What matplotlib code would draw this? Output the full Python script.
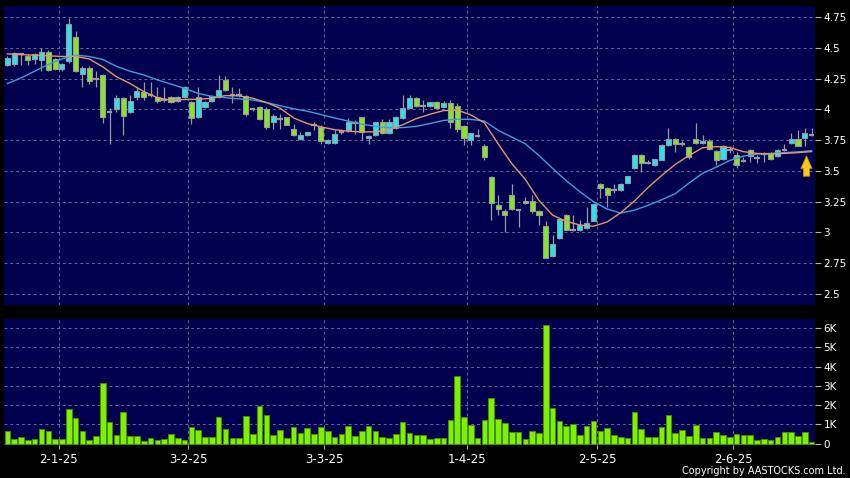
import matplotlib
matplotlib.use("Agg")
import matplotlib.pyplot as plt
import numpy as np

# daily OHLC (HKD), one entry per trading day
opens = [4.36, 4.37, 4.45, 4.43, 4.41, 4.40, 4.47, 4.41, 4.33, 4.39,
         4.585, 4.29, 4.34, 4.25, 4.28, 3.975, 4.00, 4.09, 3.98, 4.10,
         4.14, 4.12, 4.10, 4.08, 4.10, 4.07, 4.10, 4.06, 3.935, 4.02,
         4.07, 4.10, 4.24, 4.12, 4.12, 4.11, 4.00, 4.02, 4.005, 3.90,
         3.92, 3.935, 3.84, 3.76, 3.79, 3.875, 3.855, 3.725, 3.725, 3.82,
         3.83, 3.886, 3.935, 3.765, 3.79, 3.895, 3.805, 3.85, 3.93, 4.015,
         4.095, 4.03, 4.03, 4.057, 4.022, 4.049, 4.03, 3.865, 3.755, 3.785,
         3.70, 3.45, 3.22, 3.17, 3.30, 3.18, 3.253, 3.253, 3.17, 3.05,
         2.81, 2.955, 3.145, 3.02, 3.02, 3.035, 3.095, 3.39, 3.36, 3.345,
         3.342, 3.40, 3.52, 3.63, 3.567, 3.548, 3.588, 3.71, 3.76, 3.72,
         3.697, 3.756, 3.724, 3.745, 3.661, 3.594, 3.67, 3.629, 3.583, 3.67,
         3.607, 3.637, 3.643, 3.621, 3.67, 3.724, 3.756, 3.767, 3.792]
highs = [4.43, 4.47, 4.46, 4.45, 4.46, 4.50, 4.48, 4.42, 4.38, 4.74,
         4.64, 4.35, 4.35, 4.31, 4.29, 4.01, 4.12, 4.10, 4.12, 4.18,
         4.22, 4.22, 4.18, 4.18, 4.11, 4.11, 4.19, 4.07, 4.18, 4.07,
         4.12, 4.28, 4.27, 4.18, 4.17, 4.12, 4.01, 4.03, 4.02, 3.96,
         3.96, 3.94, 3.88, 3.82, 3.82, 3.90, 3.87, 3.76, 3.83, 3.84,
         3.93, 3.91, 3.94, 3.79, 3.90, 3.925, 3.925, 3.95, 4.12, 4.12,
         4.10, 4.075, 4.06, 4.07, 4.07, 4.075, 4.05, 3.87, 3.81, 3.84,
         3.72, 3.46, 3.30, 3.19, 3.39, 3.19, 3.29, 3.30, 3.18, 3.09,
         2.98, 3.11, 3.15, 3.14, 3.10, 3.21, 3.235, 3.40, 3.365, 3.39,
         3.40, 3.46, 3.635, 3.635, 3.59, 3.60, 3.715, 3.846, 3.765, 3.74,
         3.70, 3.89, 3.79, 3.76, 3.67, 3.71, 3.70, 3.655, 3.61, 3.675,
         3.63, 3.65, 3.65, 3.675, 3.72, 3.805, 3.83, 3.85, 3.846]
lows = [4.35, 4.35, 4.36, 4.36, 4.37, 4.31, 4.31, 4.32, 4.31, 4.38,
        4.30, 4.18, 4.21, 4.18, 3.89, 3.72, 3.98, 3.79, 3.97, 4.08,
        4.08, 4.10, 4.05, 4.06, 4.05, 4.06, 4.09, 3.88, 3.93, 4.01,
        4.06, 4.09, 4.15, 4.05, 4.10, 3.95, 3.99, 3.91, 3.84, 3.84,
        3.84, 3.87, 3.78, 3.75, 3.78, 3.83, 3.715, 3.72, 3.72, 3.80,
        3.82, 3.80, 3.75, 3.715, 3.78, 3.80, 3.80, 3.84, 3.92, 4.01,
        4.02, 3.98, 4.02, 4.01, 4.02, 3.845, 3.82, 3.71, 3.71, 3.775,
        3.59, 3.10, 3.14, 3.005, 3.18, 3.04, 3.23, 3.16, 3.06, 2.79,
        2.80, 2.95, 3.02, 3.01, 3.015, 3.03, 3.09, 3.28, 3.21, 3.32,
        3.335, 3.40, 3.515, 3.49, 3.555, 3.54, 3.585, 3.705, 3.65, 3.70,
        3.60, 3.72, 3.72, 3.67, 3.55, 3.59, 3.645, 3.52, 3.575, 3.575,
        3.56, 3.575, 3.59, 3.615, 3.66, 3.72, 3.70, 3.70, 3.78]
closes = [4.42, 4.46, 4.45, 4.40, 4.45, 4.47, 4.32, 4.33, 4.37, 4.69,
          4.31, 4.34, 4.23, 4.25, 3.935, 3.975, 4.09, 3.95, 4.07, 4.15,
          4.10, 4.12, 4.07, 4.08, 4.06, 4.10, 4.18, 3.93, 4.10, 4.06,
          4.11, 4.16, 4.16, 4.12, 4.12, 3.96, 4.00, 3.92, 3.855, 3.95,
          3.92, 3.875, 3.79, 3.79, 3.815, 3.875, 3.745, 3.75, 3.80, 3.82,
          3.895, 3.886, 3.815, 3.785, 3.895, 3.805, 3.895, 3.94, 4.015, 4.095,
          4.03, 4.03, 4.057, 4.013, 4.049, 3.894, 3.84, 3.765, 3.805, 3.785,
          3.61, 3.24, 3.19, 3.14, 3.19, 3.18, 3.24, 3.17, 3.145, 2.79,
          2.905, 3.105, 3.02, 3.02, 3.058, 3.08, 3.23, 3.36, 3.30, 3.345,
          3.39, 3.458, 3.63, 3.565, 3.567, 3.596, 3.71, 3.76, 3.716, 3.72,
          3.616, 3.727, 3.745, 3.675, 3.588, 3.702, 3.67, 3.548, 3.583, 3.621,
          3.607, 3.637, 3.594, 3.67, 3.67, 3.756, 3.702, 3.805, 3.792]

# volume in thousands
volumes = [0.66, 0.24, 0.33, 0.16, 0.21, 0.75, 0.66, 0.23, 0.26, 1.79,
           1.35, 0.66, 0.19, 0.38, 3.17, 1.13, 0.43, 1.66, 0.40, 0.38,
           0.12, 0.28, 0.19, 0.26, 0.47, 0.31, 0.16, 0.85, 0.69, 0.35,
           0.35, 1.40, 0.73, 0.29, 0.29, 1.44, 0.52, 1.94, 1.47, 0.45,
           0.68, 0.28, 0.85, 0.55, 0.83, 0.47, 0.88, 0.66, 0.33, 0.49,
           0.90, 0.38, 0.66, 0.90, 0.66, 0.36, 0.28, 0.50, 1.14, 0.54,
           0.43, 0.42, 0.21, 0.31, 0.31, 1.20, 3.52, 1.37, 0.97, 0.31,
           1.23, 2.36, 1.27, 1.07, 0.62, 0.62, 0.23, 0.64, 0.54, 6.15,
           1.85, 1.16, 0.92, 1.02, 0.45, 0.90, 1.18, 0.64, 0.83, 0.45,
           0.35, 0.31, 1.63, 0.75, 0.35, 0.35, 0.88, 1.49, 0.55, 0.69,
           0.38, 0.95, 0.29, 0.29, 0.59, 0.43, 0.35, 0.47, 0.42, 0.43,
           0.17, 0.23, 0.17, 0.33, 0.62, 0.62, 0.38, 0.62, 0.09]

# moving averages read every second trading day
ma_days = list(range(0, 119, 2))
ma10 = [4.45, 4.445, 4.44, 4.435, 4.43, 4.43, 4.41, 4.345, 4.265, 4.21,
        4.145, 4.095, 4.075, 4.08, 4.082, 4.09, 4.112, 4.11, 4.09, 4.056,
        4.01, 3.93, 3.885, 3.858, 3.835, 3.822, 3.817, 3.817, 3.835, 3.875,
        3.925, 3.96, 3.99, 3.994, 3.955, 3.89, 3.72, 3.56, 3.43, 3.26,
        3.14, 3.09, 3.06, 3.05, 3.085, 3.16, 3.255, 3.365, 3.462, 3.553,
        3.624, 3.688, 3.697, 3.69, 3.656, 3.642, 3.637, 3.642, 3.648, 3.657]
ma20 = [4.21, 4.255, 4.31, 4.365, 4.41, 4.44, 4.43, 4.405, 4.35, 4.31,
        4.28, 4.24, 4.205, 4.17, 4.13, 4.105, 4.095, 4.085, 4.076, 4.055,
        4.03, 4.005, 3.985, 3.958, 3.93, 3.905, 3.88, 3.862, 3.85, 3.852,
        3.862, 3.885, 3.91, 3.919, 3.919, 3.905, 3.83, 3.775, 3.72, 3.625,
        3.52, 3.42, 3.33, 3.25, 3.19, 3.157, 3.18, 3.22, 3.265, 3.315,
        3.40, 3.48, 3.53, 3.585, 3.62, 3.637, 3.642, 3.648, 3.655, 3.664]

# first trading day of each month shown on the axis
month_days = [8, 27, 47, 68, 87, 107]
month_labels = ["2-1-25", "3-2-25", "3-3-25", "1-4-25", "2-5-25", "2-6-25"]

price_ticks = [2.5, 2.75, 3, 3.25, 3.5, 3.75, 4, 4.25, 4.5, 4.75]
price_labels = ["2.5", "2.75", "3", "3.25", "3.5", "3.75", "4", "4.25", "4.5", "4.75"]
vol_ticks = [0, 1, 2, 3, 4, 5, 6]
vol_labels = ["0", "1K", "2K", "3K", "4K", "5K", "6K"]

NAVY = "#00004f"
CYAN = "#27e3f0"
GREEN = "#86e526"
EDGE = "#9a9a9a"
GRID = "#6a6a98"

o = np.array(opens)
h = np.array(highs)
l = np.array(lows)
c = np.array(closes)
days = np.arange(len(o))

fig = plt.figure(figsize=(8.5, 4.78), dpi=100, facecolor="black")
ax = fig.add_axes([4 / 850, 1 - 305 / 478, 811 / 850, 299 / 478])
axv = fig.add_axes([4 / 850, 1 - 444.5 / 478, 811 / 850, 125.5 / 478])

for a in (ax, axv):
    a.set_facecolor(NAVY)
    for s in a.spines.values():
        s.set_visible(False)
    a.set_xlim(-0.5, len(o) - 0.5)
    for d in month_days:
        a.axvline(d - 0.5, color=GRID, lw=0.7, ls=(0, (3, 3)), zorder=0)
    a.yaxis.tick_right()
    a.tick_params(axis="y", colors="#b0b0b0", labelcolor="white",
                  labelsize=7.5, length=4, width=0.8, pad=2)
    a.grid(axis="y", color=GRID, lw=0.7, ls=(0, (3, 3)), zorder=0)
    a.set_axisbelow(True)

# candles
ax.vlines(days, l, h, color=EDGE, lw=0.9, zorder=2)
up = c > o
down = c < o
flat = c == o
ax.bar(days[up], (c - o)[up], bottom=o[up], width=0.75, color=CYAN,
       edgecolor=EDGE, linewidth=0.8, zorder=3)
ax.bar(days[down], (o - c)[down], bottom=c[down], width=0.75, color=GREEN,
       edgecolor=EDGE, linewidth=0.8, zorder=3)
ax.hlines(c[flat], days[flat] - 0.4, days[flat] + 0.4, color=EDGE, lw=1.6, zorder=3)

ax.plot(ma_days, ma20, color="#3c9fe0", lw=1.0, zorder=4)
ax.plot(ma_days, ma10, color="#e8946a", lw=1.0, zorder=4)

# marker arrow under the latest bar
last = days[-1]
ax.annotate("", xy=(last - 0.75, ma20[-1] - 0.02), xytext=(last - 0.75, ma20[-1] - 0.23),
            arrowprops=dict(arrowstyle="simple,head_length=0.9,head_width=0.8,tail_width=0.45",
                            fc="#ffc61e", ec="#c98b00", lw=0.6), zorder=5)

ax.set_ylim(2.41, 4.84)
ax.set_yticks(price_ticks)
ax.set_yticklabels(price_labels)
ax.set_xticks([])

# volume
axv.bar(days, volumes, width=0.82, color="#7ff000", edgecolor="#3f9000",
        linewidth=0.7, zorder=3)
axv.set_ylim(-0.05, 6.47)
axv.set_yticks(vol_ticks)
axv.set_yticklabels(vol_labels)
axv.set_xticks([d - 0.5 for d in month_days])
axv.set_xticklabels(month_labels)
axv.tick_params(axis="x", colors="#b0b0b0", labelcolor="white",
                labelsize=8.5, length=3, width=0.8, pad=3)

fig.text(846 / 850, 1 - 471 / 478, "Copyright by AASTOCKS.com Ltd.",
         color="white", fontsize=7, ha="right", va="center")

fig.savefig("out.png", dpi=100, facecolor="black")
